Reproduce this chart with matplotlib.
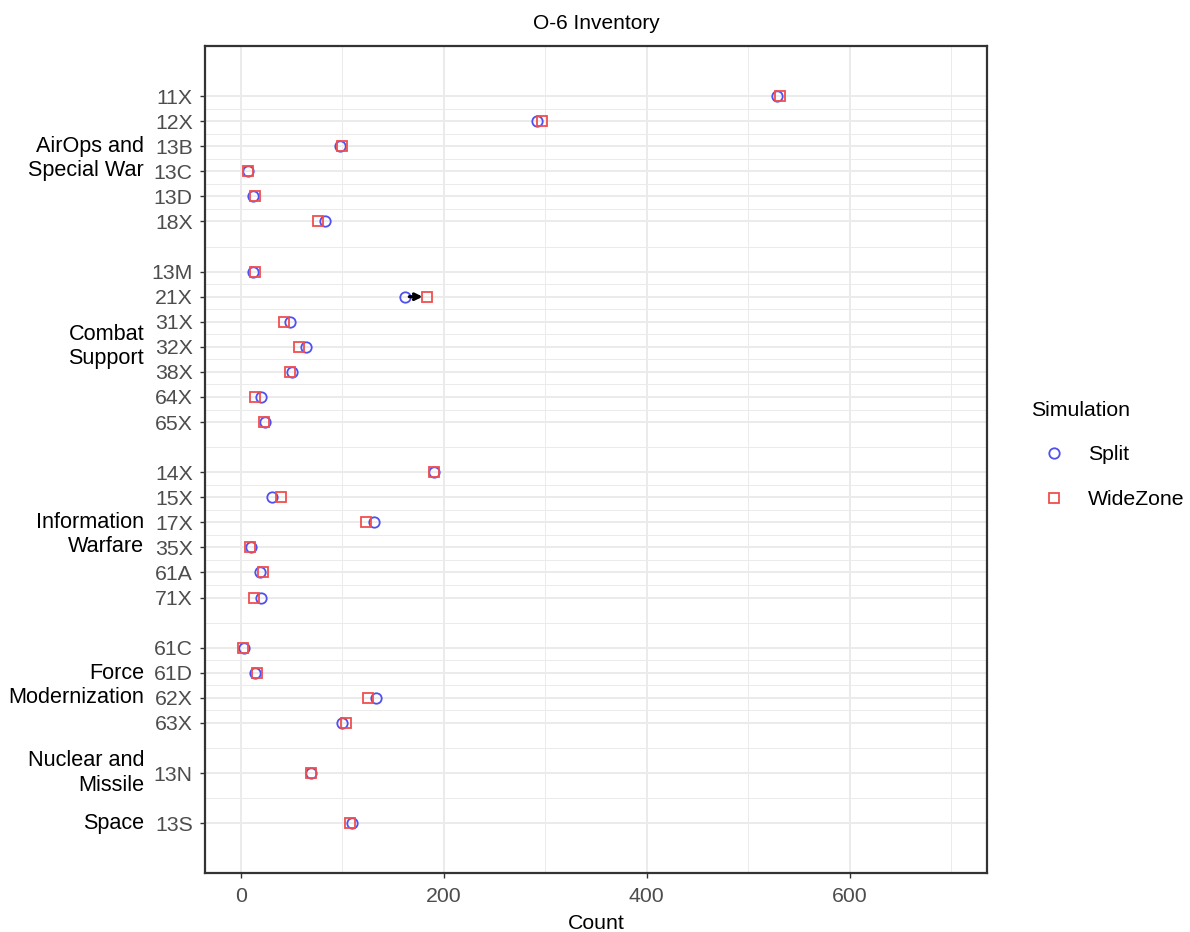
import matplotlib
matplotlib.use("Agg")
import matplotlib.pyplot as plt
from matplotlib.lines import Line2D
import matplotlib.transforms as mtransforms
import numpy as np

plt.rcParams['font.family'] = ['Liberation Sans', 'DejaVu Sans']

# groups of career fields, in plot order
groups = ["AirOps and\nSpecial War", "Combat\nSupport", "Information\nWarfare",
          "Force\nModernization", "Nuclear and\nMissile", "Space"]
group_codes = [
    ["11X", "12X", "13B", "13C", "13D", "18X"],
    ["13M", "21X", "31X", "32X", "38X", "64X", "65X"],
    ["14X", "15X", "17X", "35X", "61A", "71X"],
    ["61C", "61D", "62X", "63X"],
    ["13N"],
    ["13S"],
]

# O-6 counts per code (same order as group_codes flattened)
split = [528, 292, 98, 7, 12, 83,
         12, 162, 49, 64, 51, 20, 24,
         190, 31, 131, 10, 19, 20,
         3, 14, 133, 100,
         69,
         110]
widezone = [531, 297, 100, 7, 14, 76,
            14, 184, 43, 57, 49, 14, 23,
            190, 40, 123, 9, 22, 13,
            2, 16, 125, 104,
            69,
            108]

# y positions: one blank row between groups
codes = []
ypos = []
group_centers = []
pos = 1
for g in group_codes:
    start = pos
    for c in g:
        codes.append(c)
        ypos.append(pos)
        pos += 1
    group_centers.append((start + pos - 1) / 2)
    pos += 1
ypos = np.array(ypos, dtype=float)
split = np.array(split, dtype=float)
widezone = np.array(widezone, dtype=float)

# minor lines halfway between consecutive ticks
minor_y = (ypos[:-1] + ypos[1:]) / 2

fig = plt.figure(figsize=(11.9, 9.32), dpi=100)
ax = fig.add_axes([205/1190, 1 - 873.3/932, (987.3-205)/1190, (873.3-46)/932])

blue = "#4f4ff2"
red = "#f04e4e"
fs = 15.3

for y in ypos:
    ax.axhline(y, color="#ebebeb", lw=1.4, zorder=0)
for y in minor_y:
    ax.axhline(y, color="#ebebeb", lw=0.7, zorder=0)
for x in [0, 200, 400, 600]:
    ax.axvline(x, color="#ebebeb", lw=1.4, zorder=0)
for x in [100, 300, 500, 700]:
    ax.axvline(x, color="#ebebeb", lw=0.7, zorder=0)

ax.plot(split, ypos, linestyle="none", marker="o", markersize=7.5,
        markerfacecolor="none", markeredgecolor=blue, markeredgewidth=1.3,
        zorder=3, label="Split")

# arrows for the bigger moves
for s, w, y in zip(split, widezone, ypos):
    if abs(w - s) > 15:
        ax.annotate("", xy=(w, y), xytext=(s, y),
                    arrowprops=dict(arrowstyle="->", lw=2.3, color="black",
                                    shrinkA=3, shrinkB=3.5, mutation_scale=10),
                    zorder=4)

ax.plot(widezone, ypos, linestyle="none", marker="s", markersize=7,
        markerfacecolor="none", markeredgecolor=red, markeredgewidth=1.3,
        zorder=5, label="WideZone")

ax.set_xlim(-35.2, 735.6)
ax.set_ylim(32, -1)
ax.set_xticks([0, 200, 400, 600])
ax.set_yticks(ypos)
ax.set_yticklabels(codes)
ax.tick_params(axis="both", which="major", length=3.6, width=1.0, color="#333333",
               labelcolor="#4d4d4d", labelsize=fs)
ax.tick_params(axis="y", pad=5.2)
ax.tick_params(axis="x", pad=6)
for sp in ax.spines.values():
    sp.set_color("#333333")
    sp.set_linewidth(1.6)

trans = mtransforms.blended_transform_factory(ax.transAxes, ax.transData)
for lab, yc in zip(groups, group_centers):
    ax.text(-61/782.3, yc, lab, transform=trans, ha="right", va="center",
            fontsize=15.6, color="black", linespacing=1.2)

ax.set_xlabel("Count", fontsize=fs, labelpad=6)
ax.set_title("O-6 Inventory", fontsize=15, pad=12)

handles = [Line2D([], [], linestyle="none", marker="o", markersize=7.5,
                  markerfacecolor="none", markeredgecolor=blue, markeredgewidth=1.3),
           Line2D([], [], linestyle="none", marker="s", markersize=7,
                  markerfacecolor="none", markeredgecolor=red, markeredgewidth=1.3)]
fig.legend(handles, ["Split", "WideZone"], title="Simulation", loc="upper left",
           bbox_to_anchor=(1031/1190, 1 - 401/932), frameon=False, fontsize=fs,
           title_fontsize=fs, alignment="left", borderpad=0, borderaxespad=0,
           handlelength=2.2, handletextpad=0.5, labelspacing=1.2)

fig.savefig("out.png", dpi=100)
